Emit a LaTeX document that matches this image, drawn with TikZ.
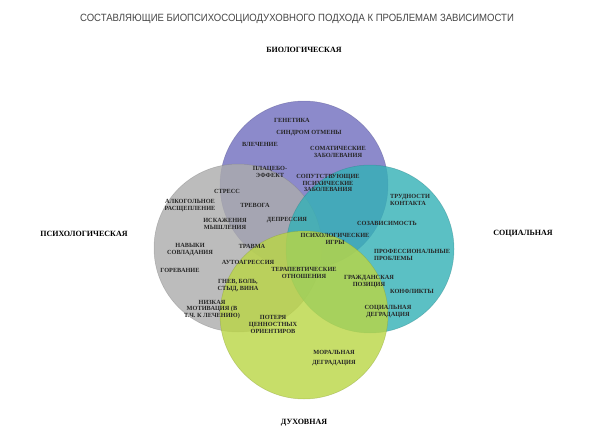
\documentclass[tikz,border=0pt]{standalone}
\usepackage{fontspec}
\setmainfont{Liberation Serif}
\newfontfamily\titlefont{Liberation Sans}
\usetikzlibrary{positioning}

\definecolor{biocol}{RGB}{112,109,190}
\definecolor{psycol}{RGB}{172,172,172}
\definecolor{soccol}{RGB}{51,177,182}
\definecolor{spicol}{RGB}{186,214,68}

\begin{document}
\begin{tikzpicture}
[ x=1pt, y=-1pt
, every node/.style={inner sep=0pt}
, sphere/.style={circle, minimum size=168pt, fill opacity=.8, draw opacity=.4, line width=.5pt}
, item/.style={align=center, text=black!85, font=\bfseries\fontsize{6.3}{6.9}\selectfont}
, aspect/.style={font=\bfseries\fontsize{8}{9}\selectfont}
]

\useasboundingbox[fill=white] (0,0) rectangle (610,436);

\node[font=\titlefont\fontsize{10.5}{12}\selectfont, text=black!72] (title) at (297,18.5)
  {\scalebox{0.91}[1]{СОСТАВЛЯЮЩИЕ БИОПСИХОСОЦИОДУХОВНОГО ПОДХОДА К ПРОБЛЕМАМ ЗАВИСИМОСТИ}};

% circles
\node[sphere, fill=biocol, draw=biocol!70!black] (bio)    at (304,185) {};
\node[sphere, fill=psycol, draw=psycol!70!black] (psy)    at (238,248) {};
\node[sphere, fill=soccol, draw=soccol!70!black] (soc)    at (370,249) {};
\node[sphere, fill=spicol, draw=spicol!70!black] (spirit) at (304,315) {};

% aspects
\node[aspect, above=48pt of bio]               (biolabel) {БИОЛОГИЧЕСКАЯ};
\node[aspect, left=26pt of psy, yshift=14pt]   (psylabel) {ПСИХОЛОГИЧЕСКАЯ};
\node[aspect, right=39pt of soc, yshift=15pt]  (soclabel) {СОЦИАЛЬНАЯ};
\node[aspect, below=20pt of spirit]            (spilabel) {ДУХОВНАЯ};

% biological
\node[item] (genetika) at (292,120)   {ГЕНЕТИКА};
\node[item] (otmena)   at (309,133)   {СИНДРОМ ОТМЕНЫ};
\node[item] (vlech)    at (260,144)   {ВЛЕЧЕНИЕ};
\node[item] (somat)    at (338,152)   {СОМАТИЧЕСКИЕ\\ЗАБОЛЕВАНИЯ};
\node[item] (placebo)  at (270,171.5) {ПЛАЦЕБО-\\ЭФФЕКТ};
\node[item] (soput)    at (328,183)   {СОПУТСТВУЮЩИЕ\\ПСИХИЧЕСКИЕ\\ЗАБОЛЕВАНИЯ};

% psychological
\node[item] (stress)   at (227,191)   {СТРЕСС};
\node[item] (alko)     at (190,205.5) {АЛКОГОЛЬНОЕ\\РАСЩЕПЛЕНИЕ};
\node[item] (trevoga)  at (255,205)   {ТРЕВОГА};
\node[item] (iskazh)   at (225,223.5) {ИСКАЖЕНИЯ\\МЫШЛЕНИЯ};
\node[item] (depr)     at (287,220)   {ДЕПРЕССИЯ};
\node[item] (navyki)   at (190,249.5) {НАВЫКИ\\СОВЛАДАНИЯ};
\node[item] (travma)   at (252,246)   {ТРАВМА};
\node[item] (autoagr)  at (248,262)   {АУТОАГРЕССИЯ};
\node[item] (gorev)    at (180,270)   {ГОРЕВАНИЕ};
\node[item] (terap)    at (304,273)   {ТЕРАПЕВТИЧЕСКИЕ\\ОТНОШЕНИЯ};
\node[item] (gnev)     at (238,286)   {ГНЕВ, БОЛЬ,\\СТЫД, ВИНА};
\node[item] (motiv)    at (212,309.5) {НИЗКАЯ\\МОТИВАЦИЯ (В\\Т.Ч. К ЛЕЧЕНИЮ)};
\node[item] (poterya)  at (273,324.5) {ПОТЕРЯ\\ЦЕННОСТНЫХ\\ОРИЕНТИРОВ};

% social
\node[item, align=left, anchor=west] (trudn) at (390,199.5) {ТРУДНОСТИ\\КОНТАКТА};
\node[item] (sozav)    at (387,223)   {СОЗАВИСИМОСТЬ};
\node[item] (igry)     at (335,239)   {ПСИХОЛОГИЧЕСКИЕ\\ИГРЫ};
\node[item, align=left, anchor=west] (prof)  at (374,254.5) {ПРОФЕССИОНАЛЬНЫЕ\\ПРОБЛЕМЫ};
\node[item] (grazhd)   at (369,282)   {ГРАЖДАНСКАЯ\\ПОЗИЦИЯ};
\node[item] (konfl)    at (412,291)   {КОНФЛИКТЫ};
\node[item] (socdegr)  at (388,311.5) {СОЦИАЛЬНАЯ\\ДЕГРАДАЦИЯ};

% spiritual
\node[item] (moral)    at (334,358)   {МОРАЛЬНАЯ\\[3pt]ДЕГРАДАЦИЯ};

\end{tikzpicture}
\end{document}
